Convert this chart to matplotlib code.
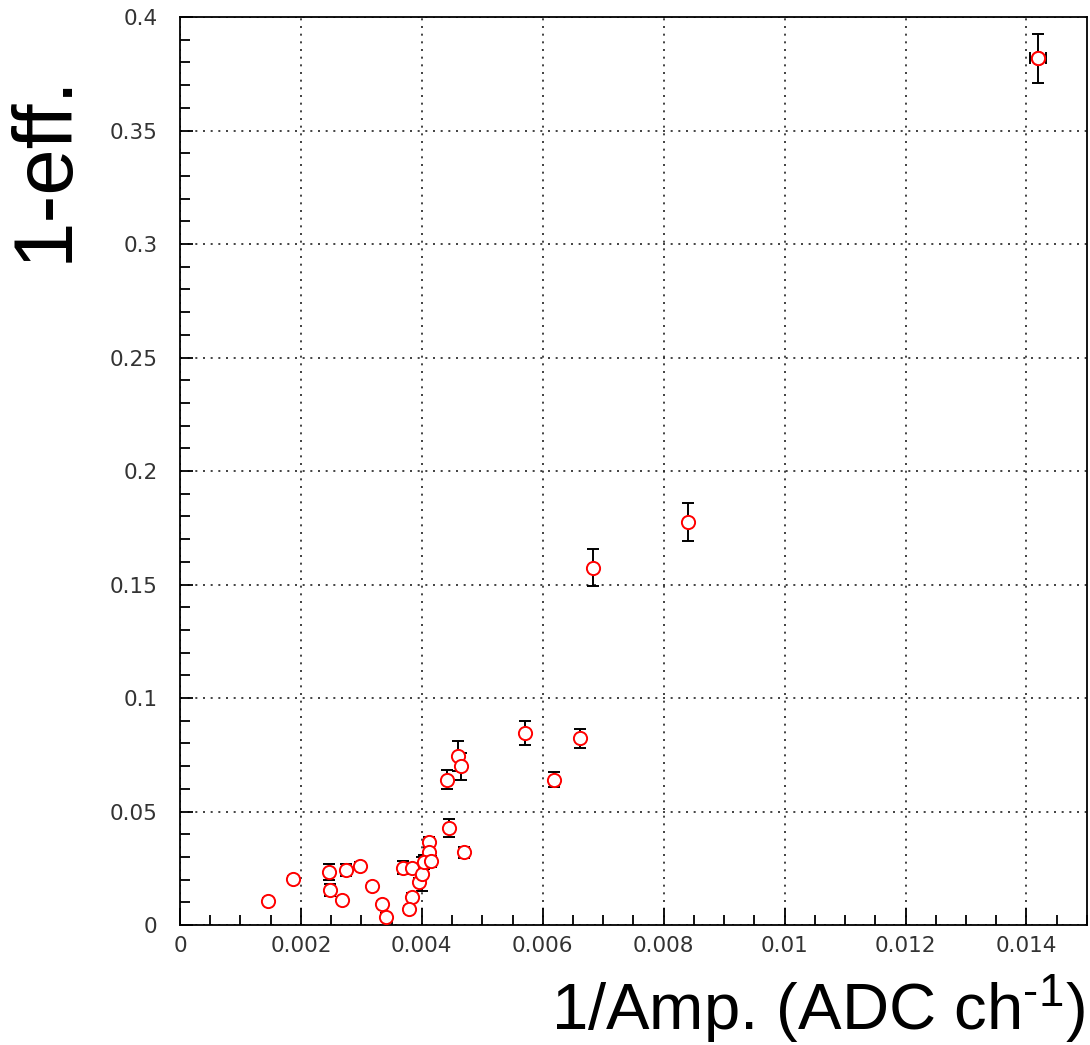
import matplotlib.pyplot as plt
from matplotlib.ticker import MultipleLocator, FuncFormatter
import numpy as np

plt.rcParams['font.family'] = ['Liberation Sans', 'DejaVu Sans']
plt.rcParams['mathtext.fontset'] = 'custom'
plt.rcParams['mathtext.rm'] = 'Liberation Sans'
plt.rcParams['mathtext.it'] = 'Liberation Sans'

# 1/amplitude, inefficiency and its error
inv_amp = [0.00145, 0.00187, 0.00247, 0.00248, 0.00268, 0.00274, 0.00297,
           0.00318, 0.00334, 0.00340, 0.00369, 0.00384, 0.00383, 0.00378,
           0.00395, 0.00401, 0.00412, 0.00412, 0.00404, 0.00416, 0.00445,
           0.00470, 0.00442, 0.00460, 0.00465, 0.00571, 0.00618, 0.00662,
           0.00683, 0.00840, 0.01419]
ineff = [0.0106, 0.0203, 0.0232, 0.0154, 0.0110, 0.0242, 0.0261,
         0.0172, 0.0093, 0.0037, 0.0253, 0.0253, 0.0124, 0.0070,
         0.0190, 0.0225, 0.0367, 0.0323, 0.0277, 0.0280, 0.0426,
         0.0320, 0.0640, 0.0744, 0.0700, 0.0845, 0.0640, 0.0823,
         0.1575, 0.1777, 0.3818]
ineff_err = [0.0015, 0.0015, 0.0035, 0.0025, 0.0015, 0.0027, 0.0015,
             0.0015, 0.0015, 0.0015, 0.0027, 0.0015, 0.0015, 0.0015,
             0.0015, 0.0075, 0.0022, 0.0025, 0.0030, 0.0025, 0.0039,
             0.0025, 0.0041, 0.0065, 0.0059, 0.0053, 0.0034, 0.0041,
             0.0083, 0.0084, 0.0108]
# horizontal error only visible on the last point
last_x_err = 0.00013

fig = plt.figure(figsize=(10.9, 10.45), dpi=100)
ax = fig.add_axes([0.1651, 0.1148, 0.8321, 0.8689])

style = dict(fmt='o', ecolor='black', elinewidth=1.4, capsize=4.6,
             capthick=1.4, mfc='white', mec='red', mew=1.4, ms=9.5, zorder=3)
ax.errorbar(inv_amp, ineff, yerr=ineff_err, **style)
ax.errorbar(inv_amp[-1:], ineff[-1:], xerr=[last_x_err], **style)

ax.set_xlim(0, 0.015)
ax.set_ylim(0, 0.4)
ax.xaxis.set_major_locator(MultipleLocator(0.002))
ax.xaxis.set_minor_locator(MultipleLocator(0.0005))
ax.yaxis.set_major_locator(MultipleLocator(0.05))
ax.yaxis.set_minor_locator(MultipleLocator(0.01))
fmt = FuncFormatter(lambda v, p: '%g' % round(v, 6))
ax.xaxis.set_major_formatter(fmt)
ax.yaxis.set_major_formatter(fmt)

ax.tick_params(axis='both', which='both', direction='in', width=1.3,
               labelsize=15.5, labelcolor='#333333')
ax.tick_params(axis='x', which='major', length=12, pad=8)
ax.tick_params(axis='x', which='minor', length=7)
ax.tick_params(axis='y', which='major', length=9, pad=16)
ax.tick_params(axis='y', which='minor', length=7)
for lab in ax.get_xticklabels() + ax.get_yticklabels():
    lab.set_family('DejaVu Sans')
for s in ax.spines.values():
    s.set_linewidth(1.3)

ax.grid(True, which='major', color='#222222', linestyle=(0, (1.2, 3.4)),
        linewidth=1.2)
ax.set_axisbelow(True)

fig.text(45 / 1090, 1 - 168 / 1045, '1-eff.', rotation=90, ha='center',
         va='center', fontsize=60)
fig.text(1085 / 1090, 1 - 1031 / 1045, '1/Amp. (ADC ch$^{\\text{-1}}$)',
         ha='right', va='baseline', fontsize=47)

fig.savefig('out.png', dpi=100)
